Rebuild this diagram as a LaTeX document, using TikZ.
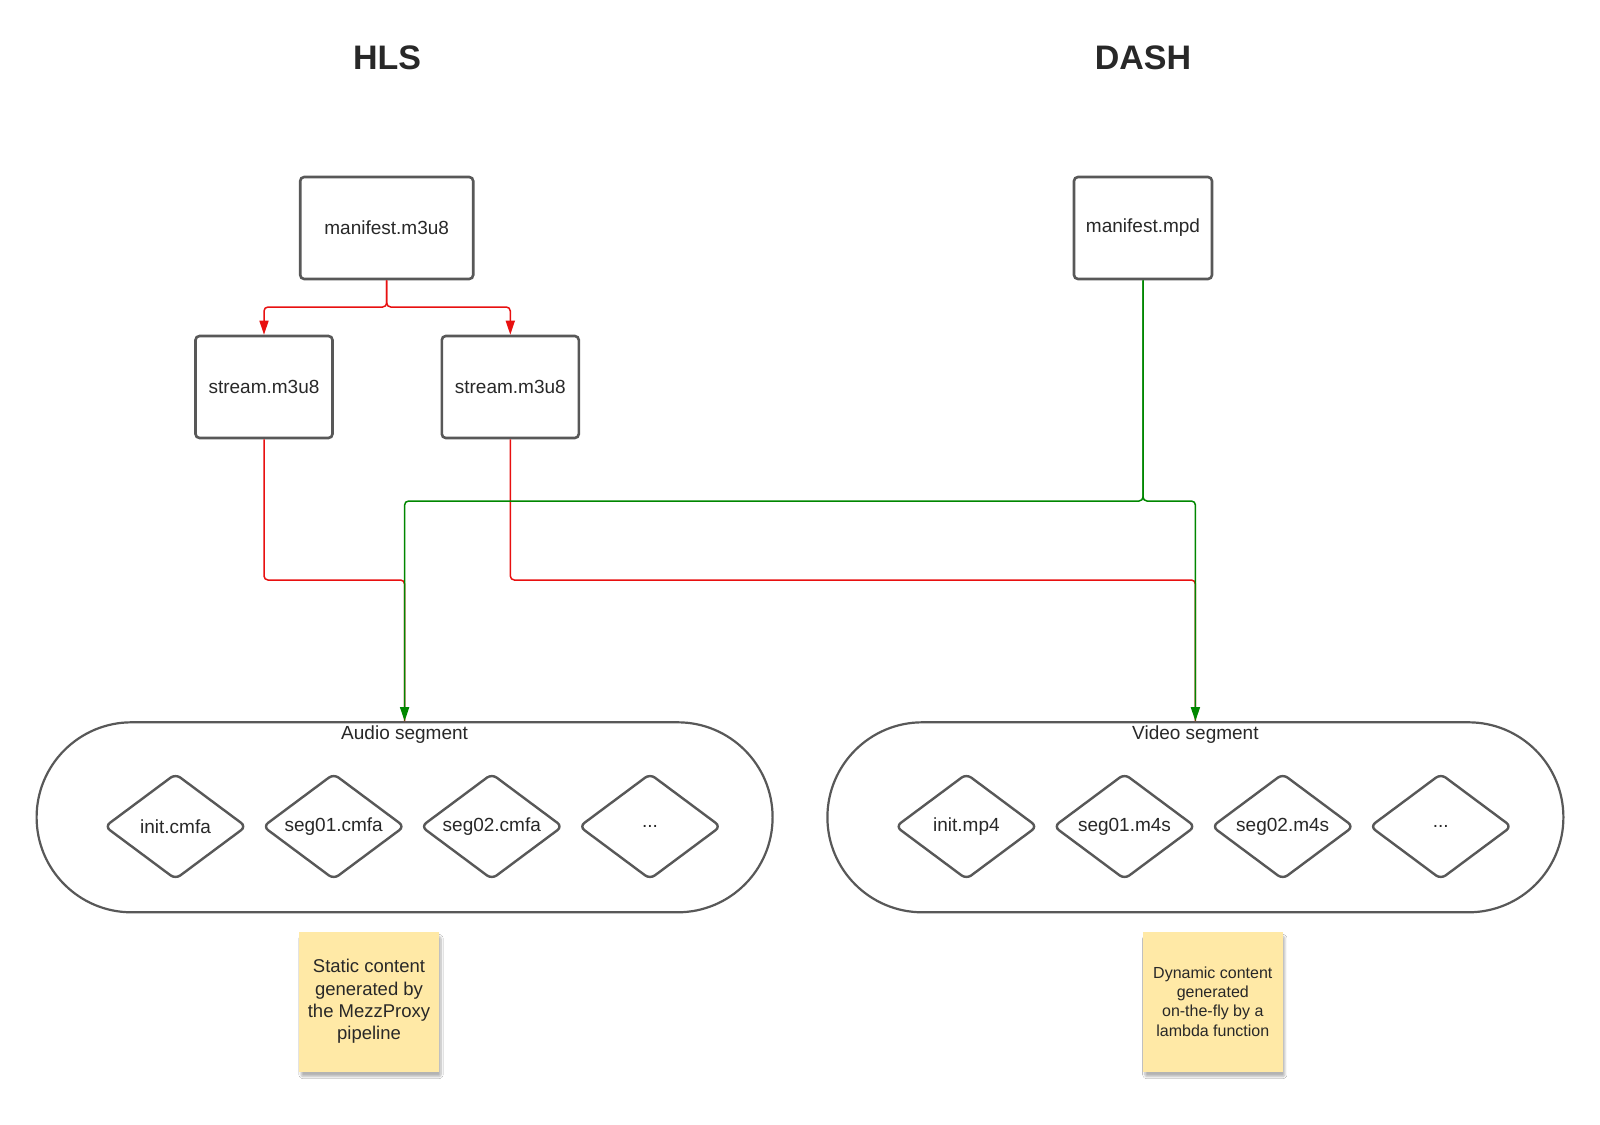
\documentclass[tikz,border=0pt]{standalone}
\usepackage{fontspec}
\setmainfont{Liberation Sans}
\usetikzlibrary{arrows.meta,shapes.geometric,shadows,shadows.blur}
\definecolor{edge}{RGB}{88,88,88}
\definecolor{txt}{RGB}{40,40,40}
\definecolor{redln}{RGB}{232,16,16}
\definecolor{grnln}{RGB}{0,135,0}
\definecolor{sticky}{RGB}{255,233,166}
\begin{document}
\begin{tikzpicture}[x=1pt,y=-1pt,
  filebox/.style={draw=edge, line width=2.6pt, rounded corners=4pt, text=txt,
    font=\fontsize{19}{23}\selectfont, minimum height=102pt, inner sep=0pt},
  segbox/.style={draw=edge, line width=2.2pt, rounded corners=95pt, minimum width=736pt,
    minimum height=190pt, inner sep=0pt},
  segdia/.style={diamond, aspect=1.35, draw=edge, line width=2.4pt, rounded corners=6pt, text=txt,
    font=\fontsize{19}{23}\selectfont, minimum width=142pt, minimum height=106pt, inner sep=0pt},
  seglabel/.style={text=txt, font=\fontsize{19}{23}\selectfont},
  title/.style={text=txt, font=\fontsize{34}{40}\selectfont\bfseries},
  note/.style={fill=sticky, minimum width=140pt, minimum height=140pt, align=center, text=txt,
    inner sep=0pt, blur shadow={shadow xshift=2pt, shadow yshift=-5pt, shadow blur steps=8,
    shadow blur extra rounding=2pt, shadow opacity=30}},
  redconn/.style={draw=redln, line width=1.5pt, rounded corners=4pt, -{Triangle[length=14pt,width=9pt]}},
  grnconn/.style={draw=grnln, line width=1.5pt, rounded corners=4pt, -{Triangle[length=14pt,width=9pt]}},
  redplain/.style={draw=redln, line width=1.5pt, rounded corners=4pt}
]
\useasboundingbox (0,0) rectangle (1600,1124);
\fill[white] (0,0) rectangle (1600,1124);

% titles
\node[title] (hls) at (387,58) {HLS};
\node[title] (dash) at (1143,58) {DASH};

% boxes
\node[filebox, minimum width=173pt] (man) at (386.7,228) {manifest.m3u8};
\node[filebox, minimum width=137pt] (s1) at (264,387) {stream.m3u8};
\node[filebox, minimum width=137pt] (s2) at (510.3,387) {stream.m3u8};
\node[filebox, minimum width=138pt] (mpd) at (1143,228) {manifest.mpd};

% segment containers
\node[segbox] (audio) at (404.6,817.3) {};
\node[segbox] (video) at (1195.4,817.3) {};
\node[seglabel] (alabel) at (404.6,735) {Audio segment};
\node[seglabel] (vlabel) at (1195.4,735) {Video segment};

% diamonds
\node[segdia] (a1) at (175.5,826.5) {init.cmfa};
\node[segdia] (a2) at (333.7,826.5) {seg01.cmfa};
\node[segdia] (a3) at (491.8,826.5) {seg02.cmfa};
\node[segdia] (a4) at (650,826.5) {...};
\node[segdia] (v1) at (966.4,826.5) {init.mp4};
\node[segdia] (v2) at (1124.5,826.5) {seg01.m4s};
\node[segdia] (v3) at (1282.7,826.5) {seg02.m4s};
\node[segdia] (v4) at (1440.8,826.5) {...};

% sticky notes
\node[note, font=\fontsize{18.5}{22.2}\selectfont] (n1) at (369,1001.5)
  {Static content\\generated by\\the MezzProxy\\pipeline};
\node[note, font=\fontsize{16}{19.4}\selectfont] (n2) at (1212.8,1001.5)
  {Dynamic content\\generated\\on-the-fly by a\\lambda function};

% helper coordinates
\coordinate (ybr) at (0,307);
\coordinate (ylow) at (0,580);
\coordinate (ygrn) at (0,501);

% red connectors
\draw[redconn] (man.south) -- (man.south |- ybr) -| (s1.north);
\draw[redconn] (man.south) -- (man.south |- ybr) -| (s2.north);
\draw[redplain] (s1.south) |- (audio.north |- ylow) -- (audio.north);
\draw[redplain] (s2.south) |- (video.north |- ylow) -- (video.north);

% green connectors
\draw[grnconn] (mpd.south) -- (mpd.south |- ygrn) -| (audio.north);
\draw[grnconn] (mpd.south) -- (mpd.south |- ygrn) -| (video.north);
\end{tikzpicture}
\end{document}
